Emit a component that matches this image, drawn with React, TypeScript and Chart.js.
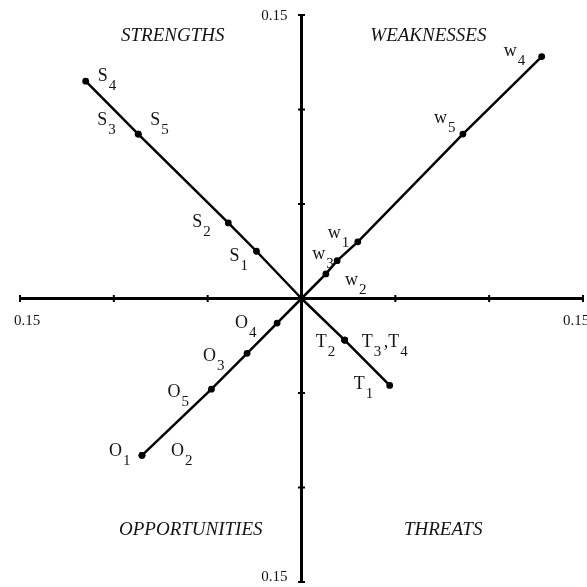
import React, { useEffect, useRef } from "react";
import { Chart, registerables } from "chart.js";

Chart.register(...registerables);

// ---- Data ----
const strengthLabels = ["S1", "S2", "S3", "S4", "S5"];
const strengthX = [-0.024, -0.039, -0.087, -0.115, -0.087];
const strengthY = [0.025, 0.04, 0.087, 0.115, 0.087];

const weaknessLabels = ["w1", "w2", "w3", "w4", "w5"];
const weaknessX = [0.03, 0.013, 0.019, 0.128, 0.086];
const weaknessY = [0.03, 0.013, 0.02, 0.128, 0.087];

const opportunityLabels = ["O1", "O2", "O3", "O4", "O5"];
const opportunityX = [-0.085, -0.085, -0.029, -0.013, -0.048];
const opportunityY = [-0.083, -0.083, -0.029, -0.013, -0.048];

const threatLabels = ["T1", "T2", "T3", "T4"];
const threatX = [0.047, 0.023, 0.023, 0.023];
const threatY = [-0.046, -0.022, -0.022, -0.022];

const quadrantNames = ["STRENGTHS", "WEAKNESSES", "OPPORTUNITIES", "THREATS"];
const quadrantX = [-0.0686, 0.0676, -0.059, 0.0755];
const quadrantY = [0.139, 0.139, -0.1225, -0.1225];

const axisLimit = 0.15;
const axisTicks = [-0.15, -0.1, -0.05, 0.05, 0.1, 0.15];
const endTickLabel = "0.15";

// ---- Label placement (pixel offsets of text from its point) ----
const labelOffsets: Record<string, [number, number]> = {
  S1: [-27, 10], S2: [-36, 4], S3: [-41, -9], S4: [12, 0], S5: [12, -9],
  w1: [-30, -4], w2: [19, 11], w3: [-25, -2], w4: [-38, -1], w5: [-29, -11],
  O1: [-33, 1], O2: [29, 1], O3: [-44, 8], O4: [-42, 5], O5: [-44, 8],
  T1: [-36, 4], T2: [-29, 7], T3: [17, 7], T4: [39, 7],
};
const labelPrefix: Record<string, string> = { T4: "," };

const SERIF = "'Liberation Serif', 'Times New Roman', serif";
const TEXT = "#141414";

type Pt = { x: number; y: number; label: string };

function buildPoints(labels: string[], xs: number[], ys: number[]): Pt[] {
  const pts = labels.map((l, i) => ({ x: xs[i], y: ys[i], label: l }));
  pts.sort((a, b) => Math.hypot(a.x, a.y) - Math.hypot(b.x, b.y));
  return [{ x: 0, y: 0, label: "" }, ...pts];
}

const axesPlugin = {
  id: "centerAxes",
  beforeDatasetsDraw(chart: any) {
    const { ctx, scales } = chart;
    const xs = scales.x;
    const ys = scales.y;
    const cx = xs.getPixelForValue(0);
    const cy = ys.getPixelForValue(0);
    const left = xs.getPixelForValue(-axisLimit);
    const right = xs.getPixelForValue(axisLimit);
    const top = ys.getPixelForValue(axisLimit);
    const bottom = ys.getPixelForValue(-axisLimit);
    ctx.save();
    ctx.strokeStyle = "#000";
    ctx.lineWidth = 3;
    ctx.beginPath();
    ctx.moveTo(left, cy);
    ctx.lineTo(right, cy);
    ctx.moveTo(cx, top);
    ctx.lineTo(cx, bottom);
    ctx.stroke();
    ctx.lineWidth = 2;
    ctx.beginPath();
    for (const t of axisTicks) {
      const px = xs.getPixelForValue(t);
      ctx.moveTo(px, cy - 3.5);
      ctx.lineTo(px, cy + 3.5);
      const py = ys.getPixelForValue(t);
      ctx.moveTo(cx - 3.5, py);
      ctx.lineTo(cx + 3.5, py);
    }
    ctx.stroke();
    ctx.fillStyle = TEXT;
    ctx.font = `15px ${SERIF}`;
    ctx.textAlign = "center";
    ctx.textBaseline = "top";
    ctx.fillText(endTickLabel, left + 7, cy + 15);
    ctx.fillText(endTickLabel, right - 7, cy + 15);
    ctx.textAlign = "right";
    ctx.textBaseline = "middle";
    ctx.fillText(endTickLabel, cx - 14, top + 1);
    ctx.fillText(endTickLabel, cx - 14, bottom - 5);
    ctx.restore();
  },
  afterDatasetsDraw(chart: any) {
    const { ctx, scales } = chart;
    const xs = scales.x;
    const ys = scales.y;
    ctx.save();
    ctx.fillStyle = TEXT;
    // quadrant names
    ctx.font = `italic 19px ${SERIF}`;
    ctx.textAlign = "center";
    ctx.textBaseline = "middle";
    quadrantNames.forEach((n, i) => {
      ctx.fillText(n, xs.getPixelForValue(quadrantX[i]), ys.getPixelForValue(quadrantY[i]));
    });
    // point labels with subscripts
    ctx.textAlign = "left";
    ctx.textBaseline = "alphabetic";
    chart.data.datasets.forEach((ds: any) => {
      ds.data.forEach((p: Pt) => {
        if (!p.label) return;
        const off = labelOffsets[p.label] || [6, -6];
        let x = xs.getPixelForValue(p.x) + off[0];
        const y = ys.getPixelForValue(p.y) + off[1];
        const main = (labelPrefix[p.label] || "") + p.label.slice(0, -1);
        const sub = p.label.slice(-1);
        ctx.font = `18px ${SERIF}`;
        ctx.fillText(main, x, y);
        x += ctx.measureText(main).width + 1;
        ctx.font = `15px ${SERIF}`;
        ctx.fillText(sub, x, y + 9);
      });
    });
    ctx.restore();
  },
};

export default function App() {
  const ref = useRef<HTMLCanvasElement | null>(null);
  useEffect(() => {
    if (!ref.current) return;
    const groups = [
      buildPoints(strengthLabels, strengthX, strengthY),
      buildPoints(weaknessLabels, weaknessX, weaknessY),
      buildPoints(opportunityLabels, opportunityX, opportunityY),
      buildPoints(threatLabels, threatX, threatY),
    ];
    const chart = new Chart(ref.current, {
      type: "scatter",
      data: {
        datasets: groups.map((g) => ({
          data: g,
          showLine: true,
          borderColor: "#000",
          borderWidth: 2.5,
          backgroundColor: "#000",
          pointBackgroundColor: "#000",
          pointBorderWidth: 0,
          pointRadius: (c: any) => (c.raw && c.raw.x === 0 && c.raw.y === 0 ? 0 : 3.4),
          clip: false as any,
        })),
      },
      options: {
        animation: false,
        responsive: true,
        maintainAspectRatio: false,
        layout: { padding: { left: 20, right: 3, top: 15, bottom: 5 } },
        scales: {
          x: { type: "linear", min: -axisLimit, max: axisLimit, display: false },
          y: { type: "linear", min: -axisLimit, max: axisLimit, display: false },
        },
        plugins: {
          legend: { display: false },
          tooltip: { enabled: false },
        },
      },
      plugins: [axesPlugin],
    });
    return () => chart.destroy();
  }, []);
  return (
    <div style={{ position: "absolute", left: 0, top: 0, width: 587, height: 587, background: "#fff" }}>
      <canvas ref={ref} />
    </div>
  );
}
